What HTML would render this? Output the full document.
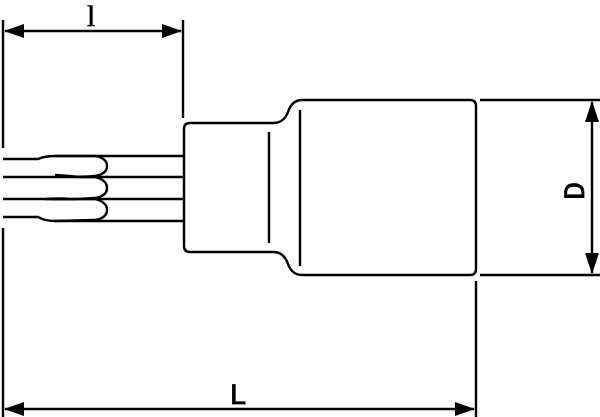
<!DOCTYPE html>
<html><head><meta charset="utf-8"><style>
html,body{margin:0;padding:0;background:#fff;width:600px;height:417px;overflow:hidden}
text{fill:#000}
.m{font-family:"Liberation Mono",monospace;font-size:30px;stroke:#000;stroke-width:0.8}
.s{font-family:"Liberation Serif",serif;font-size:30px;stroke:#000;stroke-width:0.6}
</style></head><body>
<svg width="600" height="417" viewBox="0 0 600 417" xmlns="http://www.w3.org/2000/svg">
<g fill="none" stroke="#000" stroke-width="2.4">
<line x1="3" y1="20" x2="3" y2="148"/>
<line x1="3" y1="228" x2="3" y2="417"/>
<line x1="183" y1="20" x2="183" y2="118"/>
<line x1="480" y1="100" x2="600" y2="100"/>
<line x1="480" y1="275" x2="600" y2="275"/>
<line x1="476" y1="281" x2="476" y2="417"/>
<line x1="5" y1="31" x2="181" y2="31"/>
<line x1="5" y1="409" x2="474" y2="409"/>
<line x1="592" y1="102" x2="592" y2="273"/>
<path d="M184,129 Q184,123 190,123 L273,123 Q284,123 288,112 Q292,100 302,100 L470,100 Q476,100 476,106 L476,269 Q476,275 470,275 L302,275 Q292,275 288,264 Q284,252 273,252 L190,252 Q184,252 184,246 Z"/>
<line x1="269" y1="132" x2="269" y2="243"/>
<line x1="300" y1="110" x2="300" y2="266"/>
<line x1="55" y1="156" x2="184" y2="156"/>
<line x1="80" y1="177" x2="184" y2="177"/>
<line x1="80" y1="199" x2="184" y2="199"/>
<line x1="55" y1="221" x2="184" y2="221"/>
<path d="M3,159 L38,159 Q45,156 55,156 L95,156 Q107,158 107,166 Q107,174 95,176 Q70,178 55,175"/>
<path d="M3,177 L95,177 Q107,180 107,188 Q107,196 95,198 Q70,200 45,199"/>
<path d="M3,199 L45,199 Q60,198 70,199 L95,199 Q107,202 107,210 Q107,218 95,220 L55,221 Q45,221 38,217 L3,217"/>
<path d="M55,175 Q70,176 80,177"/>
</g>
<g fill="#000">
<polygon points="4,31 24,24 24,38"/>
<polygon points="182,31 162,24 162,38"/>
<polygon points="4,409 24,402 24,416"/>
<polygon points="475,409 455,402 455,416"/>
<polygon points="592,101 585,122 599,122"/>
<polygon points="592,274 585,253 599,253"/>
</g>
<text x="87" y="26" class="s">l</text>
<text x="229" y="404" class="m">L</text>
<text transform="translate(584,191) rotate(-90)" class="m" text-anchor="middle">D</text>
</svg>
</body></html>
